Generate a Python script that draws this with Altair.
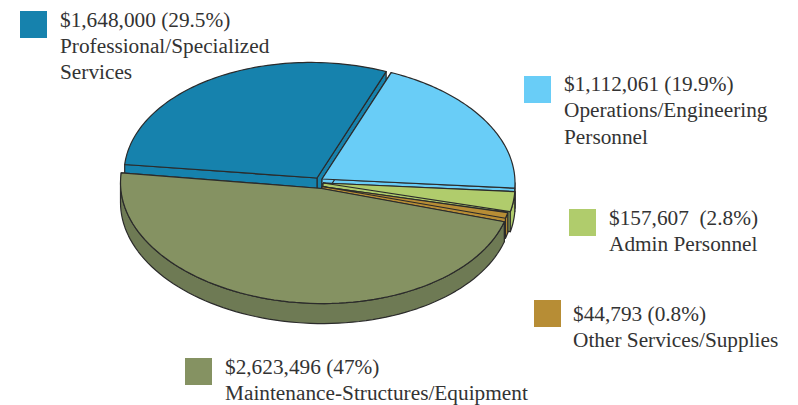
import math
import altair as alt
import pandas as pd

# ---- values
categories = ["Professional/Specialized Services", "Operations/Engineering Personnel",
              "Admin Personnel", "Other Services/Supplies", "Maintenance-Structures/Equipment"]
amounts = [1648000, 1112061, 157607, 44793, 2623496]
shares = [29.5, 19.9, 2.8, 0.8, 47.0]
amount_labels = ["$1,648,000 (29.5%)", "$1,112,061 (19.9%)", "$157,607\u00a0 (2.8%)",
                 "$44,793 (0.8%)", "$2,623,496 (47%)"]
label_lines = [["Professional/Specialized", "Services"], ["Operations/Engineering", "Personnel"],
               ["Admin Personnel"], ["Other Services/Supplies"], ["Maintenance-Structures/Equipment"]]

# ---- style / layout (image pixel coordinates)
top_colors = ["#1682ad", "#69cdf7", "#b0cc6c", "#b78d35", "#859262"]
wall_colors = ["#1682ad", "#69cdf7", "#b0cc6c", "#b78d35", "#6e7a54"]
# arc centre x,y, apex x,y, a, b
geom = [(317, 178, 317, 178, 193, 115.5),
        (322, 179, 322, 179, 193, 115.5),
        (323, 182.5, 323, 183, 192, 115.5),
        (321, 183.5, 322, 186.5, 191.5, 115.5),
        (316, 186.5, 321.5, 188.5, 195.5, 117)]
swatches = [(20, 11), (524, 76), (569, 209), (534, 300), (185, 358)]
text_xy = [(60, 26.5), (564, 91), (609, 224.5), (573, 320.5), (225, 373.5)]
LINE = 26.3
DEPTH = 20
SHEAR = 0.02
START = 69.0
STROKE = "#2b2b2b"
W, H = 782, 397


def pt(g, t):
    cx, cy, _, _, a, b = g
    dx = a * math.cos(t)
    return cx + dx, cy - b * math.sin(t) + SHEAR * dx


def arc(g, t0, t1, n=80):
    return [pt(g, t0 + (t1 - t0) * i / n) for i in range(n + 1)]


# slice angles from the shares, clockwise from START
bounds = {}
ang = START
for idx in [1, 2, 3, 4, 0]:
    nxt = ang - shares[idx] * 3.6
    bounds[idx] = (math.radians(nxt), math.radians(ang))
    ang = nxt

polys = []
for i in range(5):
    g = geom[i]
    t0, t1 = bounds[i]
    apex = (g[2], g[3])
    down = lambda p: (p[0], p[1] + DEPTH)
    for t in (t0, t1):
        c = pt(g, t)
        polys.append((wall_colors[i], [apex, c, down(c), down(apex)]))
    hi = min(t1, 0.0)
    front_lo = max(t0, -math.pi)
    if front_lo < hi:
        a_pts = arc(g, front_lo, hi)
        polys.append((wall_colors[i], a_pts + [down(p) for p in reversed(a_pts)]))
    polys.append((top_colors[i], [apex] + arc(g, t0, t1)))

xs = alt.Scale(domain=[0, W], range=[0, W])
ys = alt.Scale(domain=[0, H], range=[0, H])
X = lambda f: alt.X(f, type="quantitative", scale=xs, axis=None)
Y = lambda f: alt.Y(f, type="quantitative", scale=ys, axis=None)

layers = []
for color, p in polys:
    closed = list(p) + [p[0]]
    df = pd.DataFrame({"x": [q[0] - 8 for q in closed], "y": [q[1] - 8 for q in closed],
                       "i": range(len(closed))})
    layers.append(alt.Chart(df).mark_line(fill=color, stroke=STROKE, strokeWidth=1.2,
                                          strokeJoin="round", clip=False)
                  .encode(x=X("x"), y=Y("y"), order=alt.Order("i:Q")))

sw = pd.DataFrame({"x": [s[0] - 8 for s in swatches], "x2": [s[0] + 27 - 8 for s in swatches],
                   "y": [s[1] - 8 for s in swatches], "y2": [s[1] + 27 - 8 for s in swatches],
                   "c": categories})
layers.append(alt.Chart(sw).mark_rect().encode(
    x=X("x"), x2="x2", y=Y("y"), y2="y2",
    color=alt.Color("c:N", scale=alt.Scale(domain=categories, range=top_colors), legend=None)))

rows = []
for i in range(5):
    x, y = text_xy[i]
    for j, s in enumerate([amount_labels[i]] + label_lines[i]):
        rows.append({"x": x - 8, "y": y + j * LINE - 8, "t": s})
layers.append(alt.Chart(pd.DataFrame(rows)).mark_text(
    align="left", baseline="alphabetic", font="Liberation Serif", fontSize=21.3, color="#333333"
).encode(x=X("x"), y=Y("y"), text="t:N"))

chart = alt.layer(*layers).properties(
    width=W, height=H, padding=0, autosize=alt.AutoSizeParams(type="none"),
    background="white"
).configure_view(stroke=None)

chart.save("out.html", embed_options={"renderer": "svg", "actions": False})
